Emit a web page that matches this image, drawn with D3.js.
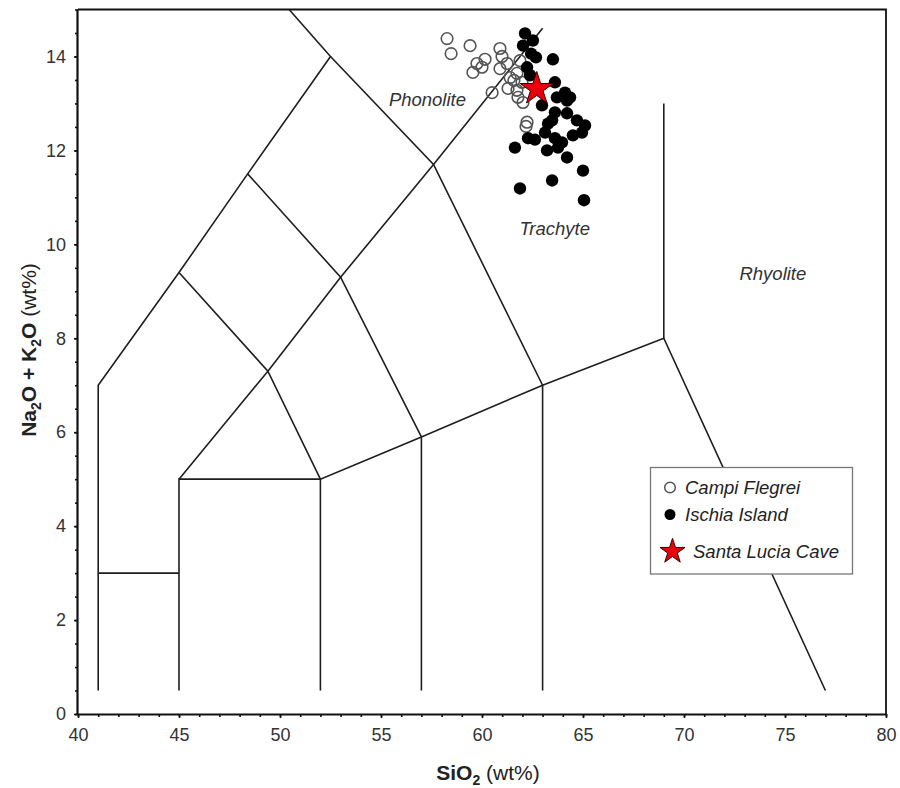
<!DOCTYPE html>
<html>
<head>
<meta charset="utf-8">
<script src="https://cdn.jsdelivr.net/npm/d3@7"></script>
<style>
  html, body { margin: 0; padding: 0; background: #fff; }
  svg { display: block; font-family: "Liberation Sans", Arial, Helvetica, sans-serif; }
</style>
</head>
<body>
<svg id="chart" width="900" height="788"></svg>
<script>
// ---------- data ----------
const xDomain = [40, 80];
const yDomain = [0, 15];
const xMajorTicks = [40, 45, 50, 55, 60, 65, 70, 75, 80];
const yMajorTicks = [0, 2, 4, 6, 8, 10, 12, 14];

// TAS field boundaries (SiO2, Na2O+K2O)
const tasLines = [
  [[41,0.5],[41,7],[45,9.4],[48.4,11.5],[52.5,14],[50.45,15]],
  [[41,3],[45,3]],
  [[45,0.5],[45,5],[52,5],[57,5.9],[63,7],[69,8],[77,0.5]],
  [[45,5],[49.4,7.3],[53,9.3],[57.6,11.7],[63,14.6]],
  [[45,9.4],[49.4,7.3],[52,5]],
  [[48.4,11.5],[53,9.3],[57,5.9]],
  [[52.5,14],[57.6,11.7],[63,7]],
  [[52,0.5],[52,5]],
  [[57,0.5],[57,5.9]],
  [[63,0.5],[63,7]],
  [[69,8],[69,13]]
];

const fieldLabels = ["Phonolite", "Trachyte", "Rhyolite"];
const fieldLabelPos = [[57.3, 12.95], [63.6, 10.2], [74.4, 9.25]];

// Campi Flegrei (open circles)
const campiSiO2 = [58.27,59.41,58.47,60.89,60.99,59.75,60.15,59.55,60.00,60.89,61.24,60.50,61.39,61.29,61.73,61.88,61.73,62.03,61.78,62.23,62.18,61.58,61.98];
const campiAlk  = [14.38,14.23,14.06,14.17,14.00,13.85,13.94,13.66,13.77,13.74,13.85,13.23,13.55,13.32,13.64,13.91,13.28,13.02,13.13,12.60,12.51,13.49,13.45];

// Ischia Island (filled circles)
const ischiaSiO2 = [62.13,62.03,62.52,62.43,62.67,63.51,62.23,62.38,64.11,64.21,63.71,62.97,63.61,64.21,63.47,64.70,65.10,64.95,64.50,63.12,62.62,62.28,61.63,63.61,63.76,63.22,64.21,65.00,63.47,61.88,65.05,63.96,63.27,63.61,64.36];
const ischiaAlk  = [14.49,14.23,14.34,14.06,13.98,13.94,13.77,13.60,13.23,13.06,13.13,12.96,12.81,12.79,12.64,12.64,12.53,12.38,12.32,12.38,12.23,12.26,12.06,12.26,12.06,12.00,11.85,11.57,11.36,11.19,10.94,12.17,12.57,13.45,13.13];

// Santa Lucia Cave (star)
const caveSiO2 = [62.71];
const caveAlk  = [13.31];

const legendLabels = ["Campi Flegrei", "Ischia Island", "Santa Lucia Cave"];

// ---------- layout ----------
const svg = d3.select("#chart");
const pL = 78, pR = 886, pT = 9.5, pB = 714;
const x = d3.scaleLinear().domain(xDomain).range([pL, pR]);
const y = d3.scaleLinear().domain(yDomain).range([pB, pT]);

// frame (top & right)
svg.append("path")
  .attr("d", `M${pL},${pT}H${pR}V${pB}`)
  .attr("fill", "none").attr("stroke", "#111").attr("stroke-width", 1.8);

// axes
const xMinor = d3.range(40, 81, 1);
const yMinor = d3.range(0, 15.01, 0.5);

const gx = svg.append("g").attr("transform", `translate(0,${pB})`);
gx.call(d3.axisBottom(x).tickValues(xMinor).tickSize(3).tickFormat(""));
gx.call(g => g.select(".domain").remove());
const gx2 = svg.append("g").attr("transform", `translate(0,${pB})`)
  .call(d3.axisBottom(x).tickValues(xMajorTicks).tickSize(4).tickPadding(10).tickFormat(d3.format("d")));
gx2.select(".domain").attr("stroke", "#111").attr("stroke-width", 2.2).attr("d", `M${pL},0.5H${pR}`);

const gy = svg.append("g").attr("transform", `translate(${pL},0)`);
gy.call(d3.axisLeft(y).tickValues(yMinor).tickSize(3).tickFormat(""));
gy.call(g => g.select(".domain").remove());
const gy2 = svg.append("g").attr("transform", `translate(${pL},0)`)
  .call(d3.axisLeft(y).tickValues(yMajorTicks).tickSize(4).tickPadding(8).tickFormat(d3.format("d")));
gy2.select(".domain").attr("stroke", "#111").attr("stroke-width", 2.2).attr("d", `M-0.5,${pT}V${pB}`);

svg.selectAll(".tick line").attr("stroke", "#111").attr("stroke-width", 1.6);
svg.selectAll(".tick text").attr("font-size", 18).attr("fill", "#333")
  .attr("font-family", "'Liberation Sans', Arial, sans-serif");

// TAS lines
const line = d3.line().x(d => x(d[0])).y(d => y(d[1]));
svg.append("g").selectAll("path").data(tasLines).join("path")
  .attr("d", line).attr("fill", "none").attr("stroke", "#1e1e1e").attr("stroke-width", 1.6);

// field labels
svg.append("g").selectAll("text").data(fieldLabels).join("text")
  .attr("x", (d, i) => x(fieldLabelPos[i][0]))
  .attr("y", (d, i) => y(fieldLabelPos[i][1]))
  .attr("text-anchor", "middle")
  .attr("font-size", 18.5).attr("font-style", "italic").attr("fill", "#333")
  .text(d => d);

// points
const campi = campiSiO2.map((v, i) => [v, campiAlk[i]]);
const ischia = ischiaSiO2.map((v, i) => [v, ischiaAlk[i]]);
const cave = caveSiO2.map((v, i) => [v, caveAlk[i]]);

svg.append("g").selectAll("circle").data(campi).join("circle")
  .attr("cx", d => x(d[0])).attr("cy", d => y(d[1])).attr("r", 5.8)
  .attr("fill", "none").attr("stroke", "#555").attr("stroke-width", 1.6);

svg.append("g").selectAll("circle").data(ischia).join("circle")
  .attr("cx", d => x(d[0])).attr("cy", d => y(d[1])).attr("r", 6.2)
  .attr("fill", "#000");

const star = d3.symbol().type(d3.symbolStar);
svg.append("g").selectAll("path").data(cave).join("path")
  .attr("transform", d => `translate(${x(d[0])},${y(d[1])})`)
  .attr("d", star.size(340)())
  .attr("fill", "#e8000b").attr("stroke", "#3a0000").attr("stroke-width", 1);

// legend
const lg = svg.append("g");
lg.append("rect").attr("x", 650.5).attr("y", 467.5).attr("width", 202).attr("height", 106.5)
  .attr("fill", "#fff").attr("stroke", "#777").attr("stroke-width", 1.3);
lg.append("circle").attr("cx", 670).attr("cy", 487.5).attr("r", 5.3)
  .attr("fill", "none").attr("stroke", "#555").attr("stroke-width", 1.5);
lg.append("circle").attr("cx", 670).attr("cy", 514.5).attr("r", 5.5).attr("fill", "#000");
lg.append("path").attr("transform", "translate(672.5,551.5)")
  .attr("d", d3.symbol().type(d3.symbolStar).size(195)())
  .attr("fill", "#e8000b").attr("stroke", "#3a0000").attr("stroke-width", 1);
const legendTx = [685, 685, 693];
const legendTy = [493.5, 520.5, 557.5];
lg.selectAll("text").data(legendLabels).join("text")
  .attr("x", (d, i) => legendTx[i]).attr("y", (d, i) => legendTy[i])
  .attr("font-size", 18.5).attr("font-style", "italic").attr("fill", "#222")
  .text(d => d);

// axis titles
const xt = svg.append("text").attr("x", 488).attr("y", 779.5).attr("text-anchor", "middle")
  .attr("font-size", 21).attr("fill", "#222");
xt.append("tspan").attr("font-weight", "bold").text("SiO");
xt.append("tspan").attr("font-weight", "bold").attr("font-size", 14).attr("dy", 5).text("2");
xt.append("tspan").attr("dy", -5).text(" (wt%)");

const yt = svg.append("text").attr("transform", "translate(36,350) rotate(-90)")
  .attr("text-anchor", "middle").attr("font-size", 21).attr("fill", "#222");
yt.append("tspan").attr("font-weight", "bold").text("Na");
yt.append("tspan").attr("font-weight", "bold").attr("font-size", 14).attr("dy", 5).text("2");
yt.append("tspan").attr("font-weight", "bold").attr("dy", -5).text("O + K");
yt.append("tspan").attr("font-weight", "bold").attr("font-size", 14).attr("dy", 5).text("2");
yt.append("tspan").attr("font-weight", "bold").attr("dy", -5).text("O");
yt.append("tspan").attr("dy", 0).text(" (wt%)");
</script>
</body>
</html>
